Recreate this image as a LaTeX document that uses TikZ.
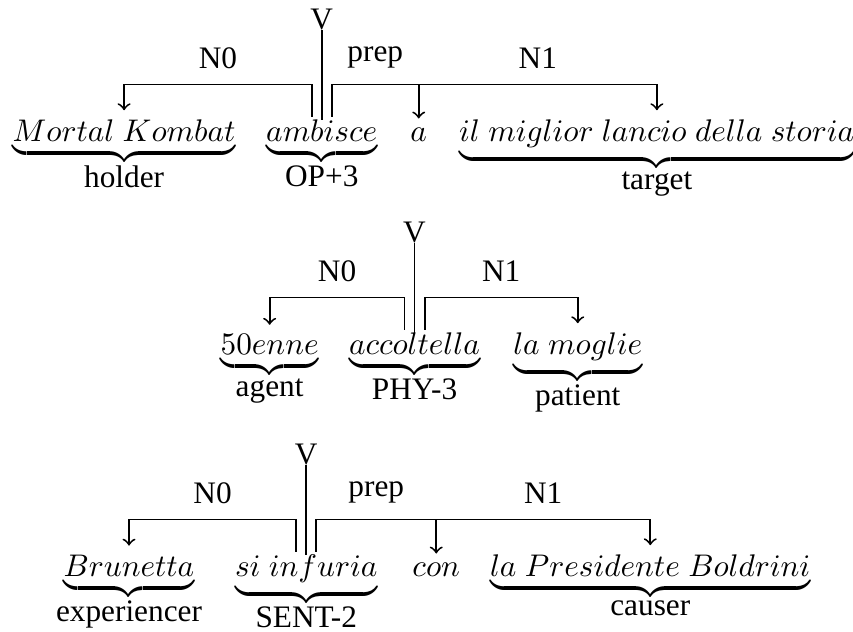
\documentclass[tikz,border=0pt]{standalone}
\usepackage{fontspec}
\setmainfont{Liberation Serif}
\usetikzlibrary{positioning}
\newcommand{\wsp}{\hskip 2.7pt}
\begin{document}
\begin{tikzpicture}[x=0.3195pt, y=-0.3195pt]
    \tikzstyle{word} = [inner sep=0pt];
    \tikzstyle{role} = [inner sep=0pt];
    \tikzstyle{link} = [line width=0.6pt];
    \tikzstyle{arc} = [->, line width=0.6pt, shorten >=3pt];
    \tikzstyle{rel} = [inner sep=0pt, above=4.8pt];
    \useasboundingbox (0,0) rectangle (853,632);

    % first sentence
    \node[word, anchor=base west] (mortal) at (12,142) {$\underbrace{Mortal\wsp Kombat}$};
    \node[word, base right=9.4pt of mortal] (ambisce) {$\underbrace{ambisce}$};
    \node[word, base right=10.2pt of ambisce] (a) {$a$};
    \node[word, base right=9.9pt of a] (storia) {$\underbrace{il\wsp miglior\wsp lancio\wsp della\wsp storia}$};
    \node[role, below=0pt of mortal] (holder) {holder};
    \node[role, below=0pt of ambisce] (op) {OP+3};
    \node[role, below=0pt of storia] (target) {target};
    \node[role, above=28.5pt of ambisce] (v1) {V};

    \draw[link] (v1) -- (ambisce);
    \draw[arc] ([xshift=-3.2pt, yshift=1pt]ambisce.north) -- ++(0,-32) -| node[rel, pos=0.25] (n0a) {N0} (mortal.north);
    \draw[link] ([xshift=3.2pt, yshift=1pt]ambisce.north) -- ++(0,-32) coordinate (top1) -- (top1 -| a) node[rel, midway] (prep1) {prep};
    \draw[arc] (top1 -| a) -- (a);
    \draw[arc] (top1 -| a) -| node[rel, pos=0.25] (n1a) {N1} (storia.north);

    % second sentence
    \node[word, anchor=base west] (enne) at (220,355) {$\underbrace{50enne}$};
    \node[word, base right=9.3pt of enne] (accoltella) {$\underbrace{accoltella}$};
    \node[word, base right=10.2pt of accoltella] (moglie) {$\underbrace{la\wsp moglie}$};
    \node[role, below=0pt of enne] (agent) {agent};
    \node[role, below=0pt of accoltella] (phy) {PHY-3};
    \node[role, below=0pt of moglie] (patient) {patient};
    \node[role, above=28.5pt of accoltella] (v2) {V};

    \draw[link] (v2) -- (accoltella);
    \draw[arc] ([xshift=-3.2pt, yshift=1pt]accoltella.north) -- ++(0,-32) -| node[rel, pos=0.25] (n0b) {N0} (enne.north);
    \draw[arc] ([xshift=3.2pt, yshift=1pt]accoltella.north) -- ++(0,-32) -| node[rel, pos=0.25] (n1b) {N1} (moglie.north);

    % third sentence
    \node[word, anchor=base west] (brunetta) at (63,577) {$\underbrace{Brunetta}$};
    \node[word, base right=12.6pt of brunetta] (infuria) {$\underbrace{si\wsp infuria}$};
    \node[word, base right=10.8pt of infuria] (con) {$con$};
    \node[word, base right=9.2pt of con] (boldrini) {$\underbrace{la\wsp Presidente\wsp Boldrini}$};
    \node[role, below=0pt of brunetta] (experiencer) {experiencer};
    \node[role, below=0pt of infuria] (sent) {SENT-2};
    \node[role, below=0pt of boldrini] (causer) {causer};
    \node[role, above=28.5pt of infuria] (v3) {V};

    \draw[link] (v3) -- (infuria);
    \draw[arc] ([xshift=-3.2pt, yshift=1pt]infuria.north) -- ++(0,-32) -| node[rel, pos=0.25] (n0c) {N0} (brunetta.north);
    \draw[link] ([xshift=3.2pt, yshift=1pt]infuria.north) -- ++(0,-32) coordinate (top3) -- (top3 -| con) node[rel, midway] (prep3) {prep};
    \draw[arc] (top3 -| con) -- (con);
    \draw[arc] (top3 -| con) -| node[rel, pos=0.25] (n1c) {N1} (boldrini.north);
\end{tikzpicture}
\end{document}
